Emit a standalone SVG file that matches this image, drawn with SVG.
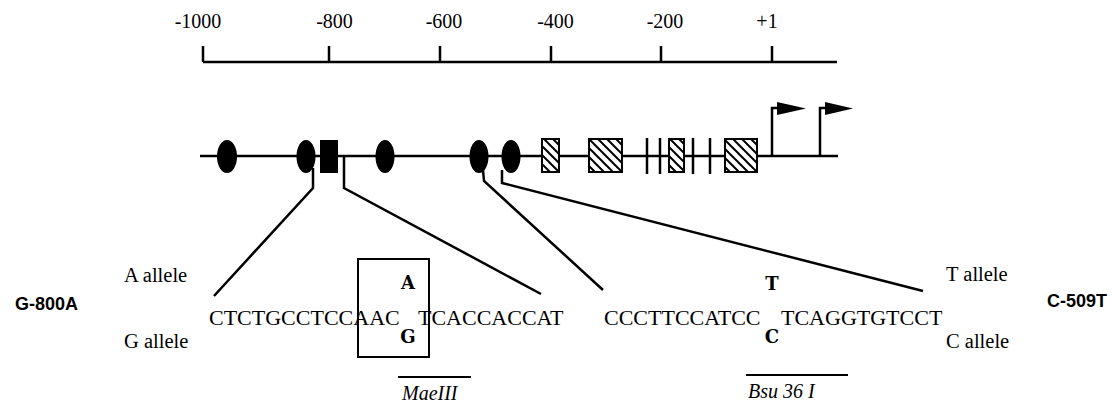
<svg xmlns="http://www.w3.org/2000/svg" width="1112" height="407" viewBox="0 0 1112 407">
<style>
.serif{font-family:"Liberation Serif","Times New Roman",serif;fill:#000}
.ax{font-size:20px;text-anchor:middle}
.al{font-size:20.5px}
.seq{font-size:22px}
.it{font-style:italic;font-size:20px}
.snp{font-family:"DejaVu Serif","Liberation Serif",serif;font-weight:bold;font-size:18px;text-anchor:middle;fill:#000}
.nm{font-family:"Liberation Sans",Arial,sans-serif;font-weight:bold;font-size:18px;fill:#000}
.ln{stroke:#000;stroke-width:2.5;fill:none}
.thin{stroke:#000;stroke-width:2;fill:none}
.hb{fill:url(#hatch);stroke:#000;stroke-width:2}
.blk{fill:#000}
</style>
<defs>
<pattern id="hatch" patternUnits="userSpaceOnUse" width="9" height="9">
<rect width="9" height="9" fill="#fff"/>
<path d="M0,0 L9,9 M-2,7 L2,11 M7,-2 L11,2" stroke="#000" stroke-width="2"/>
</pattern>
</defs>
<rect width="1112" height="407" fill="#fff"/>

<g id="scale">
<path class="ln" d="M203,62 H837 M203,46 V62 M329,46 V62 M440,46 V62 M551,46 V62 M661,46 V62 M772,46 V62"/>
<text class="serif ax" x="198" y="28">-1000</text>
<text class="serif ax" x="334.5" y="28">-800</text>
<text class="serif ax" x="444" y="28">-600</text>
<text class="serif ax" x="555.5" y="28">-400</text>
<text class="serif ax" x="665" y="28">-200</text>
<text class="serif ax" x="767" y="28">+1</text>
</g>

<g id="gene">
<path class="ln" d="M200,156 H838" stroke-width="3"/>
<g id="elements">
<ellipse class="blk" cx="227" cy="156.5" rx="10" ry="16.5"/>
<ellipse class="blk" cx="306" cy="156.5" rx="9.5" ry="16.5"/>
<rect class="blk" x="320" y="140" width="18" height="33"/>
<ellipse class="blk" cx="385" cy="156.5" rx="9.5" ry="16.5"/>
<ellipse class="blk" cx="479" cy="156.5" rx="9.5" ry="16.5"/>
<ellipse class="blk" cx="511" cy="156.5" rx="9.5" ry="16.5"/>
<rect class="hb" x="542" y="139" width="17" height="33"/>
<rect class="hb" x="589" y="139" width="33" height="33"/>
<rect class="hb" x="669" y="139" width="15" height="33"/>
<rect class="hb" x="725" y="139" width="32" height="33"/>
<path class="ln" stroke-width="3" d="M647,138 V174 M660,138 V174 M693,138 V174 M710,138 V174"/>
</g>
<g id="tss">
<path class="ln" d="M772,156 V108 H779 M820,156 V108 H827"/>
<polygon class="blk" points="777,102 806,108.5 777,115"/>
<polygon class="blk" points="825,102 853,108.5 825,115"/>
</g>
</g>

<g id="connectors">
<polyline class="ln" points="313,168 313,188 214,296"/>
<polyline class="ln" points="344,157 344,188 541,294"/>
<polyline class="ln" points="483,170 484,181 603,290"/>
<polyline class="ln" points="502,170 502,183 923,291"/>
</g>

<g id="snp-g800a">
<text class="nm" x="15" y="310">G-800A</text>
<text class="serif al" x="124" y="282">A allele</text>
<text class="serif al" x="124" y="348">G allele</text>
<rect class="thin" x="358" y="259" width="71" height="98"/>
<text class="snp" x="408" y="289">A</text>
<text class="snp" x="408" y="343">G</text>
<text class="serif seq" x="209" y="325">CTCTGCCTCCAAC</text>
<text class="serif seq" x="418" y="325">TCACCACCAT</text>
<path class="thin" d="M398,377 H471"/>
<text class="serif it" x="402" y="400">MaeIII</text>
</g>

<g id="snp-c509t">
<text class="nm" x="1047" y="307">C-509T</text>
<text class="serif al" x="946" y="281">T allele</text>
<text class="serif al" x="946" y="348">C allele</text>
<text class="snp" x="772" y="290">T</text>
<text class="snp" x="772" y="343">C</text>
<text class="serif seq" x="604" y="325">CCCTTCCATCC</text>
<text class="serif seq" x="781" y="325">TCAGGTGTCCT</text>
<path class="thin" d="M746,375 H848"/>
<text class="serif it" x="748" y="398">Bsu 36 I</text>
</g>
</svg>
